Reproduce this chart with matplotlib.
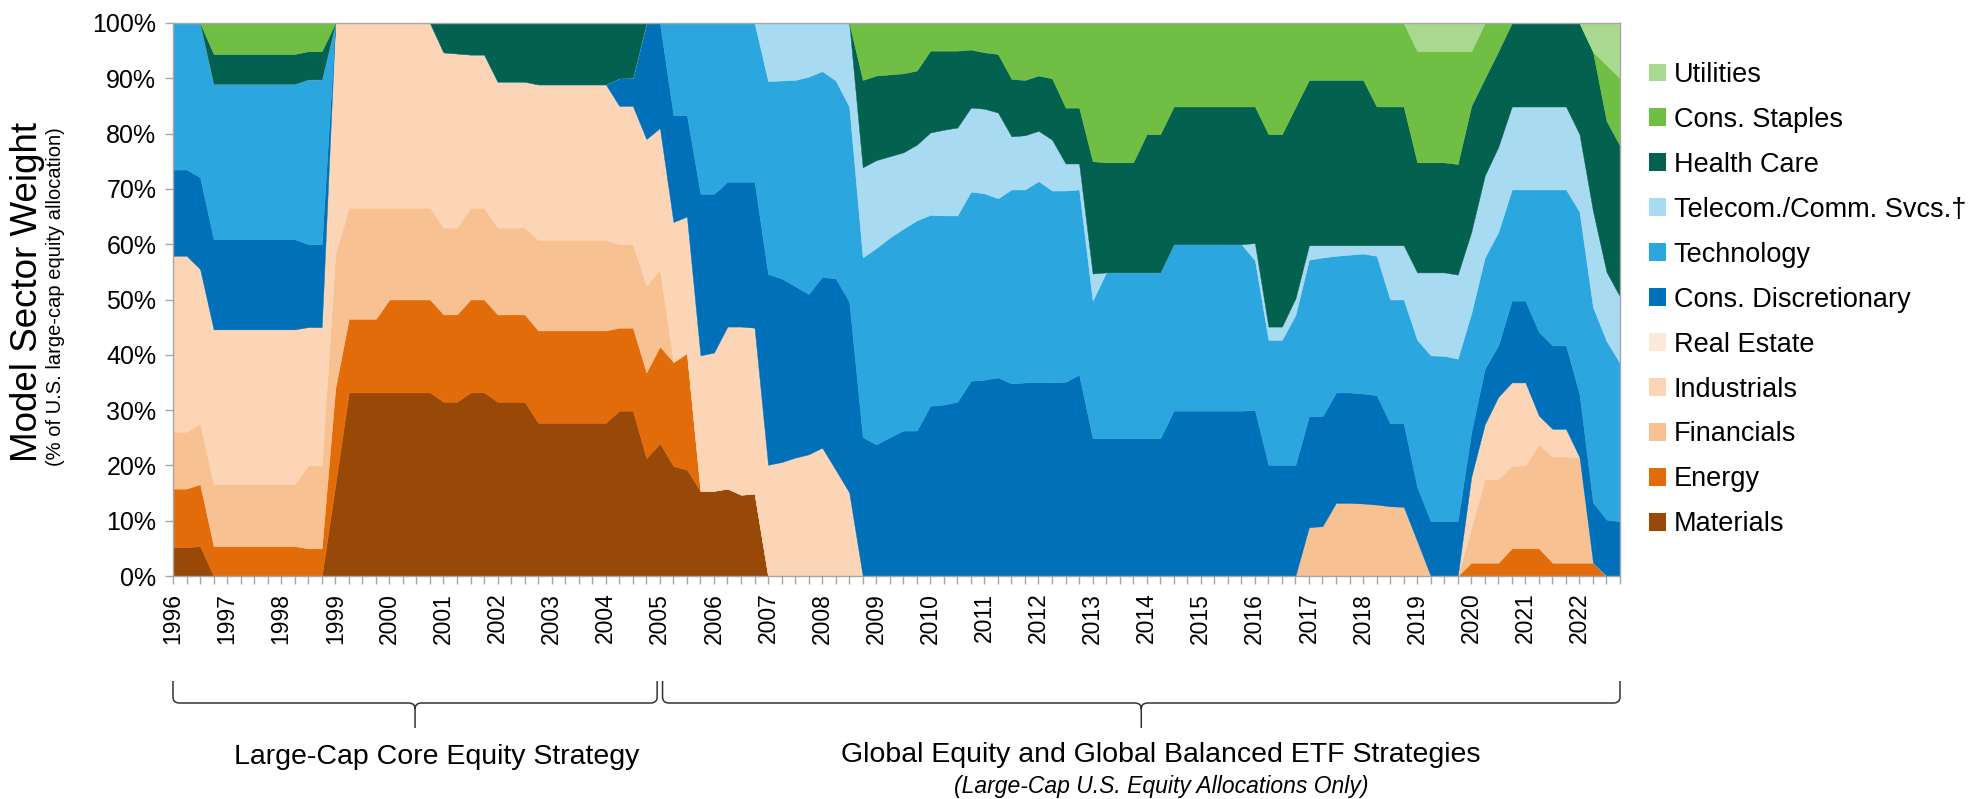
import numpy as np
import matplotlib
matplotlib.use("Agg")
import matplotlib.pyplot as plt
from matplotlib.patches import Patch, PathPatch
from matplotlib.path import Path
from matplotlib.transforms import blended_transform_factory

plt.rcParams['font.family'] = ['Liberation Sans', 'DejaVu Sans']

# quarterly model weights (% of large-cap equity), 1996 Q1 .. 2022 Q4
# each line holds four years (16 quarters), the last line 2020-2022
years = list(range(1996, 2023))
quarters = 1996 + np.arange(4 * len(years)) / 4.0

materials = [
    5.2, 5.2, 5.4, 0, 0, 0, 0, 0, 0, 0, 0, 0, 16.4, 33.2, 33.2, 33.2,
    33.2, 33.2, 33.2, 33.2, 31.5, 31.5, 33.2, 33.2, 31.5, 31.5, 31.5, 27.7, 27.7, 27.7, 27.7, 27.7,
    27.7, 29.9, 29.9, 21.3, 24.0, 19.9, 19.2, 15.4, 15.4, 15.8, 14.7, 14.9, 0, 0, 0, 0,
    0, 0, 0, 0, 0, 0, 0, 0, 0, 0, 0, 0, 0, 0, 0, 0,
    0, 0, 0, 0, 0, 0, 0, 0, 0, 0, 0, 0, 0, 0, 0, 0,
    0, 0, 0, 0, 0, 0, 0, 0, 0, 0, 0, 0, 0, 0, 0, 0,
    0, 0, 0, 0, 0, 0, 0, 0, 0, 0, 0, 0,
]
energy = [
    10.6, 10.6, 11.2, 5.4, 5.4, 5.4, 5.4, 5.4, 5.4, 5.4, 5.0, 5.0, 17.5, 13.3, 13.3, 13.3,
    16.8, 16.8, 16.8, 16.8, 15.8, 15.8, 16.8, 16.8, 15.8, 15.8, 15.8, 16.7, 16.7, 16.7, 16.7, 16.7,
    16.7, 15.0, 15.0, 15.5, 17.5, 18.8, 21.1, 0, 0, 0, 0, 0, 0, 0, 0, 0,
    0, 0, 0, 0, 0, 0, 0, 0, 0, 0, 0, 0, 0, 0, 0, 0,
    0, 0, 0, 0, 0, 0, 0, 0, 0, 0, 0, 0, 0, 0, 0, 0,
    0, 0, 0, 0, 0, 0, 0, 0, 0, 0, 0, 0, 0, 0, 0, 0,
    2.4, 2.4, 2.4, 5.0, 5.0, 5.0, 2.4, 2.4, 2.4, 2.4, 0, 0,
]
financials = [
    10.3, 10.3, 11.0, 11.2, 11.2, 11.2, 11.2, 11.2, 11.2, 11.2, 15.0, 15.0, 24.3, 20.1, 20.1, 20.1,
    16.6, 16.6, 16.6, 16.6, 15.7, 15.7, 16.6, 16.6, 15.7, 15.7, 15.7, 16.4, 16.4, 16.4, 16.4, 16.4,
    16.4, 15.1, 15.1, 15.7, 14.0, 0, 0, 0, 0, 0, 0, 0, 0, 0, 0, 0,
    0, 0, 0, 0, 0, 0, 0, 0, 0, 0, 0, 0, 0, 0, 0, 0,
    0, 0, 0, 0, 0, 0, 0, 0, 0, 0, 0, 0, 0, 0, 0, 0,
    0, 0, 0, 0, 8.8, 9.0, 13.2, 13.2, 13.1, 12.9, 12.6, 12.5, 6.3, 0, 0, 0,
    6.3, 15.1, 15.1, 14.9, 15.0, 18.8, 19.2, 19.2, 19.1, 0, 0, 0,
]
industrials = [
    31.8, 31.8, 27.9, 28.0, 28.0, 28.0, 28.0, 28.0, 28.0, 28.0, 25.0, 25.0, 41.8, 33.4, 33.4, 33.4,
    33.4, 33.4, 33.4, 33.4, 31.7, 31.5, 27.7, 27.7, 26.4, 26.4, 26.4, 28.1, 28.1, 28.1, 28.1, 28.1,
    28.1, 25.0, 25.0, 26.5, 25.5, 25.3, 24.7, 24.5, 25.0, 29.3, 30.4, 30.0, 20.1, 20.6, 21.4, 22.0,
    23.2, 19.2, 15.1, 0, 0, 0, 0, 0, 0, 0, 0, 0, 0, 0, 0, 0,
    0, 0, 0, 0, 0, 0, 0, 0, 0, 0, 0, 0, 0, 0, 0, 0,
    0, 0, 0, 0, 0, 0, 0, 0, 0, 0, 0, 0, 0, 0, 0, 0,
    9.2, 9.9, 14.9, 15.1, 15.0, 5.2, 5.0, 5.0, 0, 0, 0, 0,
]
real_estate = [
    0, 0, 0, 0, 0, 0, 0, 0, 0, 0, 0, 0, 0, 0, 0, 0,
    0, 0, 0, 0, 0, 0, 0, 0, 0, 0, 0, 0, 0, 0, 0, 0,
    0, 0, 0, 0, 0, 0, 0, 0, 0, 0, 0, 0, 0, 0, 0, 0,
    0, 0, 0, 0, 0, 0, 0, 0, 0, 0, 0, 0, 0, 0, 0, 0,
    0, 0, 0, 0, 0, 0, 0, 0, 0, 0, 0, 0, 0, 0, 0, 0,
    0, 0, 0, 0, 0, 0, 0, 0, 0, 0, 0, 0, 0, 0, 0, 0,
    0, 0, 0, 0, 0, 0, 0, 0, 0, 0, 0, 0,
]
cons_disc = [
    15.6, 15.6, 16.6, 16.3, 16.3, 16.3, 16.3, 16.3, 16.3, 16.3, 15.0, 15.0, 0, 0, 0, 0,
    0, 0, 0, 0, 0, 0, 0, 0, 0, 0, 0, 0, 0, 0, 0, 0,
    0, 5.0, 5.1, 21.0, 19.0, 19.3, 18.3, 29.2, 28.7, 26.2, 26.2, 26.4, 34.5, 33.2, 31.0, 29.0,
    30.9, 34.6, 34.5, 25.1, 23.8, 25.1, 26.3, 26.3, 30.8, 31.0, 31.5, 35.3, 35.5, 35.9, 34.8, 35.0,
    35.1, 35.0, 35.1, 36.4, 24.9, 24.9, 24.9, 24.9, 24.9, 24.9, 29.9, 29.9, 29.9, 29.9, 29.9, 29.9,
    30.0, 20.1, 20.1, 20.1, 20.1, 19.9, 20.0, 20.0, 19.9, 19.8, 15.0, 15.1, 9.8, 9.9, 9.9, 9.9,
    8.1, 10.1, 9.3, 14.8, 14.8, 15.1, 15.1, 15.1, 11.4, 10.9, 10.2, 9.9,
]
technology = [
    26.5, 26.5, 27.9, 28.1, 28.1, 28.1, 28.1, 28.1, 28.1, 28.1, 29.8, 29.8, 0, 0, 0, 0,
    0, 0, 0, 0, 0, 0, 0, 0, 0, 0, 0, 0, 0, 0, 0, 0,
    0, 0, 0, 0, 0, 16.7, 16.7, 30.9, 30.9, 28.7, 28.7, 28.7, 34.9, 35.8, 37.3, 39.3,
    37.2, 35.8, 35.3, 32.5, 35.5, 36.1, 36.5, 38.0, 34.5, 34.2, 33.7, 34.2, 33.7, 32.4, 35.1, 34.9,
    36.3, 34.7, 34.6, 33.5, 24.9, 30.0, 30.0, 30.0, 30.0, 30.0, 30.1, 30.1, 30.1, 30.1, 30.1, 30.1,
    27.1, 22.6, 22.6, 27.1, 28.3, 28.7, 24.7, 24.9, 25.3, 25.2, 22.4, 22.4, 26.6, 30.0, 29.9, 29.4,
    21.5, 20.1, 20.5, 20.1, 20.1, 25.8, 28.2, 28.2, 33.0, 35.3, 32.3, 28.6,
]
telecom = [
    0, 0, 0, 0, 0, 0, 0, 0, 0, 0, 0, 0, 0, 0, 0, 0,
    0, 0, 0, 0, 0, 0, 0, 0, 0, 0, 0, 0, 0, 0, 0, 0,
    0, 0, 0, 0, 0, 0, 0, 0, 0, 0, 0, 0, 10.5, 10.4, 10.3, 9.7,
    8.7, 10.4, 15.1, 16.3, 15.9, 14.7, 13.8, 13.7, 14.9, 15.5, 15.9, 15.2, 15.3, 15.5, 9.6, 9.8,
    9.1, 9.2, 4.9, 4.7, 4.9, 0, 0, 0, 0, 0, 0, 0, 0, 0, 0, 0,
    3.1, 2.4, 2.4, 3.0, 2.6, 2.2, 1.9, 1.7, 1.5, 1.9, 9.8, 9.8, 12.2, 15.0, 15.1, 15.2,
    14.7, 14.8, 15.4, 15.0, 15.0, 15.0, 15.0, 15.0, 14.0, 17.4, 12.5, 12.0,
]
health_care = [
    0, 0, 0, 5.4, 5.4, 5.4, 5.4, 5.4, 5.4, 5.4, 5.1, 5.1, 0, 0, 0, 0,
    0, 0, 0, 0, 5.3, 5.5, 5.7, 5.7, 10.6, 10.6, 10.6, 11.1, 11.1, 11.1, 11.1, 11.1,
    11.1, 10.0, 9.9, 0, 0, 0, 0, 0, 0, 0, 0, 0, 0, 0, 0, 0,
    0, 0, 0, 15.8, 15.3, 14.8, 14.3, 13.4, 14.8, 14.3, 13.9, 10.5, 10.2, 10.6, 10.4, 10.0,
    10.0, 11.1, 10.1, 10.1, 20.3, 19.9, 19.9, 19.9, 25.0, 25.0, 24.9, 24.9, 24.9, 24.9, 24.9, 24.9,
    24.7, 34.8, 34.8, 34.6, 29.9, 29.9, 29.9, 29.9, 29.9, 25.1, 25.1, 25.1, 19.9, 19.9, 19.9, 20.0,
    22.8, 17.6, 17.3, 15.1, 15.1, 15.1, 15.1, 15.1, 20.1, 28.8, 27.3, 27.3,
]
cons_staples = [
    0, 0, 0, 5.6, 5.6, 5.6, 5.6, 5.6, 5.6, 5.6, 5.1, 5.1, 0, 0, 0, 0,
    0, 0, 0, 0, 0, 0, 0, 0, 0, 0, 0, 0, 0, 0, 0, 0,
    0, 0, 0, 0, 0, 0, 0, 0, 0, 0, 0, 0, 0, 0, 0, 0,
    0, 0, 0, 10.3, 9.5, 9.3, 9.1, 8.6, 5.0, 5.0, 5.0, 4.8, 5.3, 5.6, 10.1, 10.3,
    9.5, 10.0, 15.3, 15.3, 25.0, 25.2, 25.2, 25.2, 20.1, 20.1, 15.1, 15.1, 15.1, 15.1, 15.1, 15.1,
    15.1, 20.1, 20.1, 15.2, 10.3, 10.3, 10.3, 10.3, 10.3, 15.1, 15.1, 15.1, 20.1, 20.1, 20.1, 20.4,
    9.9, 10.0, 5.1, 0, 0, 0, 0, 0, 0, 0, 10.1, 12.2,
]
utilities = [
    0, 0, 0, 0, 0, 0, 0, 0, 0, 0, 0, 0, 0, 0, 0, 0,
    0, 0, 0, 0, 0, 0, 0, 0, 0, 0, 0, 0, 0, 0, 0, 0,
    0, 0, 0, 0, 0, 0, 0, 0, 0, 0, 0, 0, 0, 0, 0, 0,
    0, 0, 0, 0, 0, 0, 0, 0, 0, 0, 0, 0, 0, 0, 0, 0,
    0, 0, 0, 0, 0, 0, 0, 0, 0, 0, 0, 0, 0, 0, 0, 0,
    0, 0, 0, 0, 0, 0, 0, 0, 0, 0, 0, 0, 5.1, 5.1, 5.1, 5.1,
    5.1, 0, 0, 0, 0, 0, 0, 0, 0, 5.2, 7.6, 10.0,
]

sectors = ["Materials", "Energy", "Financials", "Industrials", "Real Estate",
           "Cons. Discretionary", "Technology", "Telecom./Comm. Svcs.\u2020",
           "Health Care", "Cons. Staples", "Utilities"]
colors = ["#984807", "#E36C0A", "#F8C192", "#FBD5B5", "#FDE9D9",
          "#0070B8", "#2CA6DF", "#A8DBF1", "#03614F", "#70BF44", "#A9D991"]

series = [materials, energy, financials, industrials, real_estate, cons_disc,
          technology, telecom, health_care, cons_staples, utilities]

fig = plt.figure(figsize=(19.84, 7.99), dpi=100)
ax = fig.add_axes([173 / 1984, 1 - 576 / 799, (1620 - 173) / 1984, (576 - 23) / 799])

polys = ax.stackplot(quarters, *series, colors=colors, linewidth=0)
for p, c in zip(polys, colors):
    p.set_edgecolor(c)
    p.set_linewidth(0.3)

ax.set_xlim(1996, 2022.75)
ax.set_ylim(0, 100)

grey = "#A6A6A6"
for s in ax.spines.values():
    s.set_color(grey)
    s.set_linewidth(1.0)
    s.set_zorder(5)

ax.set_xticks(years)
ax.set_xticklabels([str(y) for y in years], rotation=90, fontsize=16.5)
ax.set_xticks(quarters, minor=True)
ax.set_yticks(range(0, 101, 10))
ax.set_yticklabels([f"{v}%" for v in range(0, 101, 10)], fontsize=18)
ax.tick_params(axis="both", which="both", direction="out", length=6, color=grey, width=1)
ax.tick_params(axis="x", which="major", pad=6)
ax.tick_params(axis="y", pad=6)

fig.text(28 / 1984, 1 - 292 / 799, "Model Sector Weight", rotation=90,
         ha="center", va="center", fontsize=26.5)
fig.text(56 / 1984, 1 - 297 / 799, "(% of U.S. large-cap equity allocation)", rotation=90,
         ha="center", va="center", fontsize=14.5)

handles = [Patch(facecolor=c, edgecolor="none") for c in colors][::-1]
fig.legend(handles, sectors[::-1], loc="upper left", bbox_to_anchor=(1638 / 1984, 1 - 51 / 799),
           frameon=False, fontsize=19.5, handlelength=0.62, handleheight=0.62,
           handletextpad=0.3, labelspacing=0.70, borderaxespad=0)


# curly brackets below the axis: x in data years, y in figure fraction
trans = blended_transform_factory(ax.transData, fig.transFigure)


def brace(x0, x1, color="#333333"):
    y_top = 1 - 681 / 799
    y_mid = 1 - 703 / 799
    y_tip = 1 - 728 / 799
    dy = 6 / 799
    r = 0.12
    xc = (x0 + x1) / 2
    verts = [(x0, y_top), (x0, y_mid + dy), (x0, y_mid), (x0 + r, y_mid),
             (xc - r, y_mid), (xc, y_mid), (xc, y_mid - dy),
             (xc, y_tip),
             (xc, y_mid - dy), (xc, y_mid), (xc + r, y_mid),
             (x1 - r, y_mid), (x1, y_mid), (x1, y_mid + dy), (x1, y_top)]
    codes = [Path.MOVETO, Path.LINETO, Path.CURVE3, Path.CURVE3,
             Path.LINETO, Path.CURVE3, Path.CURVE3,
             Path.LINETO,
             Path.MOVETO, Path.CURVE3, Path.CURVE3,
             Path.LINETO, Path.CURVE3, Path.CURVE3, Path.LINETO]
    patch = PathPatch(Path(verts, codes), transform=trans, fill=False,
                      edgecolor=color, linewidth=1.1, clip_on=False)
    fig.add_artist(patch)


brace(1996.0, 2004.95)
brace(2005.05, 2022.75)

fig.text(437 / 1984, 1 - 757 / 799, "Large-Cap Core Equity Strategy",
         ha="center", va="center", fontsize=20.5)
fig.text(1161 / 1984, 1 - 755 / 799, "Global Equity and Global Balanced ETF Strategies",
         ha="center", va="center", fontsize=20.5)
fig.text(1161 / 1984, 1 - 786 / 799, "(Large-Cap U.S. Equity Allocations Only)",
         ha="center", va="center", fontsize=16.5, style="italic")

fig.savefig("out.png", dpi=100)
